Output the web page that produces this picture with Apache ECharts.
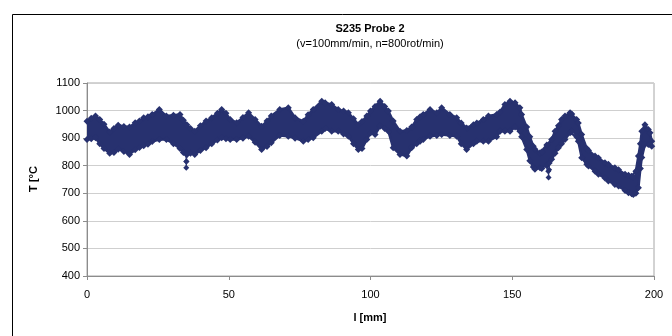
<!DOCTYPE html>
<html>
<head>
<meta charset="utf-8">
<script src="https://cdn.jsdelivr.net/npm/echarts@6/dist/echarts.min.js"></script>
<style>
    html, body { margin: 0; padding: 0; background: #fff; }
    #chart { width: 672px; height: 336px; }
</style>
</head>
<body>
<div id="chart"></div>
<script>
// position along the weld [mm] and the upper / lower edge of the measured band [°C]
const positions = [0, 1.5, 3, 4.5, 6, 8, 9.5, 11, 13, 15, 17, 18.5, 20, 21.5, 23, 25.5, 28, 30.5, 32.8, 34,
    35.2, 36.5, 38, 40, 42, 44, 46, 47.5, 49, 50.5, 52.8, 55, 57, 59.3, 61.6, 63.5, 65, 68, 71, 73.4,
    76.3, 78, 79.8, 82.8, 84, 86.3, 88.6, 90.5, 92.2, 94, 95.7, 97, 98.7, 100, 101.6, 103.4, 105, 106.3, 108, 110.4,
    112.8, 114.5, 116.3, 117.5, 118.6, 121, 123.4, 125.1, 128, 130.4, 132, 133.9, 136.3, 137.5, 139.8, 141.6, 144.5, 145.7, 147.4, 149.2,
    151, 152.7, 153.3, 155.1, 156.2, 157.4, 158, 159.8, 160.4, 162.2, 163.9, 165.1, 166.3, 167.4, 168.6, 170.4, 171, 172.7, 173.3, 174.5,
    176.3, 176.9, 179.2, 180.4, 182.7, 183.9, 186.2, 187.5, 189.8, 191, 192.1, 192.7, 193.6, 194.5, 195.2, 195.7, 196.8, 198, 198.6, 199.2];
const upperT = [961, 972, 980, 968, 950, 922, 935, 947, 942, 940, 956, 962, 974, 978, 986, 1004, 980, 983, 986, 965,
    949, 935, 925, 945, 962, 974, 990, 1004, 990, 968, 956, 975, 992, 968, 943, 962, 980, 1004, 1010, 974,
    961, 985, 1004, 1034, 1028, 1022, 1004, 998, 992, 970, 949, 960, 980, 998, 1015, 1034, 1015, 998, 962, 925,
    928, 940, 968, 978, 986, 1004, 992, 1010, 986, 974, 955, 937, 949, 955, 968, 980, 986, 995, 1022, 1034,
    1028, 1010, 986, 940, 905, 871, 860, 847, 850, 875, 895, 925, 945, 968, 980, 992, 988, 968, 955, 913,
    862, 855, 835, 828, 811, 805, 793, 785, 769, 765, 762, 758, 780, 835, 880, 925, 949, 931, 920, 889];
const lowerT = [895, 898, 901, 880, 862, 845, 848, 860, 852, 841, 858, 866, 872, 878, 888, 895, 895, 880, 862, 848,
    840, 845, 841, 855, 865, 880, 893, 901, 898, 895, 895, 900, 907, 885, 859, 870, 883, 910, 907, 900,
    889, 895, 901, 925, 935, 925, 925, 915, 907, 880, 859, 862, 895, 919, 913, 943, 935, 925, 865, 841,
    835, 865, 880, 889, 895, 907, 910, 913, 910, 907, 880, 859, 880, 889, 889, 889, 905, 925, 925, 925,
    940, 925, 905, 859, 818, 795, 787, 793, 790, 800, 823, 845, 865, 880, 895, 920, 925, 905, 889, 829,
    805, 799, 780, 769, 755, 745, 732, 726, 710, 702, 698, 696, 700, 720, 790, 830, 877, 877, 877, 871];
// single readings hanging below the band
const spike1 = [[34.8, 845], [35, 815], [35, 793], [35.1, 815], [35.3, 845]];
const spike2 = [[162.4, 805], [162.7, 780], [162.8, 757], [163, 785], [163.2, 810]];

const xTicks = { min: 0, max: 200, step: 50 };
const yTicks = { min: 400, max: 1100, step: 100 };

const NAVY = '#27316f';
const FONT = '"Liberation Sans", Arial, sans-serif';

const chart = echarts.init(document.getElementById('chart'));

const envelope = (vals) => positions.map((x, i) => [x, vals[i]]);

const lineSeries = (data) => ({
    type: 'line',
    data: data,
    symbol: 'diamond',
    symbolSize: 7,
    showSymbol: true,
    animation: false,
    itemStyle: { color: NAVY },
    lineStyle: { color: NAVY, width: 2.5 },
    z: 3
});

const option = {
    animation: false,
    grid: {
        left: 87,
        right: 18,
        top: 83,
        bottom: 60,
        show: true,
        borderColor: '#a6a6a6',
        borderWidth: 1,
        backgroundColor: '#fff'
    },
    xAxis: {
        type: 'value',
        min: xTicks.min,
        max: xTicks.max,
        interval: xTicks.step,
        axisLine: { show: true, lineStyle: { color: '#8c8c8c' } },
        axisTick: { show: true, length: 4, lineStyle: { color: '#8c8c8c' } },
        splitLine: { show: false },
        axisLabel: { color: '#000', fontSize: 11, fontFamily: FONT, margin: 13 }
    },
    yAxis: {
        type: 'value',
        min: yTicks.min,
        max: yTicks.max,
        interval: yTicks.step,
        axisLine: { show: true, lineStyle: { color: '#8c8c8c' } },
        axisTick: { show: true, length: 4, lineStyle: { color: '#8c8c8c' } },
        splitLine: { show: true, lineStyle: { color: '#cfcfcf' } },
        axisLabel: { color: '#000', fontSize: 11, fontFamily: FONT, margin: 7, formatter: (v) => String(v) }
    },
    graphic: [
        { type: 'rect', left: 10, top: 12, shape: { width: 700, height: 400 }, style: { fill: null, stroke: '#000', lineWidth: 1 }, z: 10 },
        { type: 'text', x: 370, y: 29, style: { text: 'S235 Probe 2', font: 'bold 11px ' + FONT, fill: '#000', textAlign: 'center', textVerticalAlign: 'middle' } },
        { type: 'text', x: 370, y: 44, style: { text: '(v=100mm/min, n=800rot/min)', font: '11px ' + FONT, fill: '#000', textAlign: 'center', textVerticalAlign: 'middle' } },
        { type: 'text', x: 370, y: 318, style: { text: 'l [mm]', font: 'bold 11px ' + FONT, fill: '#000', textAlign: 'center', textVerticalAlign: 'middle' } },
        { type: 'text', x: 34, y: 179, rotation: Math.PI / 2, style: { text: 'T [°C', font: 'bold 11px ' + FONT, fill: '#000', textAlign: 'center', textVerticalAlign: 'middle' } }
    ],
    series: [
        {
            // filled band between the upper and lower edge
            type: 'custom',
            data: [[positions[0], upperT[0]]],
            renderItem: function (params, api) {
                const pts = [];
                for (let i = 0; i < positions.length; i++) {
                    pts.push(api.coord([positions[i], upperT[i]]));
                }
                for (let i = positions.length - 1; i >= 0; i--) {
                    pts.push(api.coord([positions[i], lowerT[i]]));
                }
                return { type: 'polygon', shape: { points: pts }, style: { fill: NAVY } };
            },
            z: 2
        },
        lineSeries(envelope(upperT)),
        lineSeries(envelope(lowerT)),
        Object.assign(lineSeries(spike1), { lineStyle: { color: NAVY, width: 1 }, symbolSize: 6 }),
        Object.assign(lineSeries(spike2), { lineStyle: { color: NAVY, width: 1 }, symbolSize: 6 })
    ]
};

chart.setOption(option);
</script>
</body>
</html>
